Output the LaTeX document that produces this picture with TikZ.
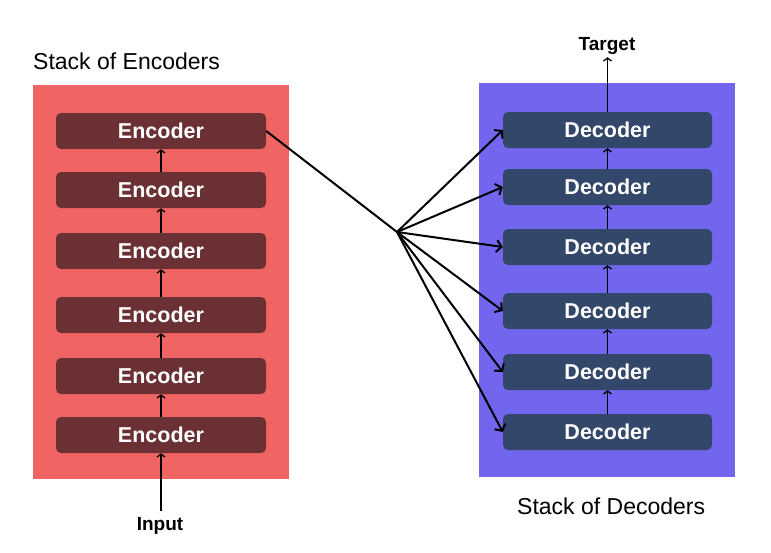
\documentclass[tikz,border=0pt]{standalone}
\usepackage{fontspec}
\setmainfont{Liberation Sans}
\usetikzlibrary{arrows.meta}
\definecolor{encbg}{HTML}{F06464}
\definecolor{encdark}{HTML}{6B3033}
\definecolor{decbg}{HTML}{7366EE}
\definecolor{decdark}{HTML}{33476A}
\tikzstyle{encoder} = [rectangle, rounded corners=5pt, minimum width=210pt, minimum height=36pt, inner sep=0pt, text centered, fill=encdark, text=white, font=\fontsize{21.5}{24}\selectfont\bfseries]
\tikzstyle{decoder} = [encoder, fill=decdark, minimum width=209pt]
\tikzstyle{stacktitle} = [inner sep=0pt, font=\fontsize{23}{26}\selectfont]
\tikzstyle{iolabel} = [inner sep=0pt, font=\fontsize{19}{22}\selectfont\bfseries]
\tikzstyle{arrow} = [line width=1.3pt, -{Straight Barb[length=3pt,width=8pt]}]
\tikzstyle{fanarrow} = [line width=2pt, -{Straight Barb[length=5pt,width=12pt]}]

\begin{document}
\begin{tikzpicture}[x=1pt,y=-1pt]
    \useasboundingbox (0,0) rectangle (771,552);
    % stacks
    \fill[encbg] (33,85) rectangle (289,479);
    \fill[decbg] (479,83) rectangle (735,477);
    \node (enctitle) [stacktitle, anchor=base west] at (33,69) {Stack of Encoders};
    \node (dectitle) [stacktitle, anchor=base west] at (517,514) {Stack of Decoders};

    \foreach \i/\y in {1/435,2/376,3/315,4/251,5/190,6/131}
        \node (enc\i) [encoder] at (161,\y) {Encoder};
    \foreach \i/\y in {1/432,2/372,3/311,4/247,5/187,6/130}
        \node (dec\i) [decoder] at (607.5,\y) {Decoder};

    \node (input) [iolabel, anchor=base] at (160,530) {Input};
    \node (target) [iolabel, anchor=base] at (607,50) {Target};

    \draw [arrow] ([xshift=1pt,yshift=6pt]input.north) -- (enc1);
    \foreach \i [count=\j from 2] in {1,...,5} {
        \draw [arrow] (enc\i) -- (enc\j);
        \draw [arrow] (dec\i) -- (dec\j);
    }
    \draw [arrow] (dec6) -- ([xshift=0.5pt,yshift=-3pt]target.south);

    % encoder output fans out to every decoder
    \coordinate (hub) at (397,232);
    \draw [line width=2pt] (enc6.east) -- (hub);
    \foreach \i in {1,...,6}
        \draw [fanarrow] (hub) -- (dec\i.west);
\end{tikzpicture}
\end{document}
